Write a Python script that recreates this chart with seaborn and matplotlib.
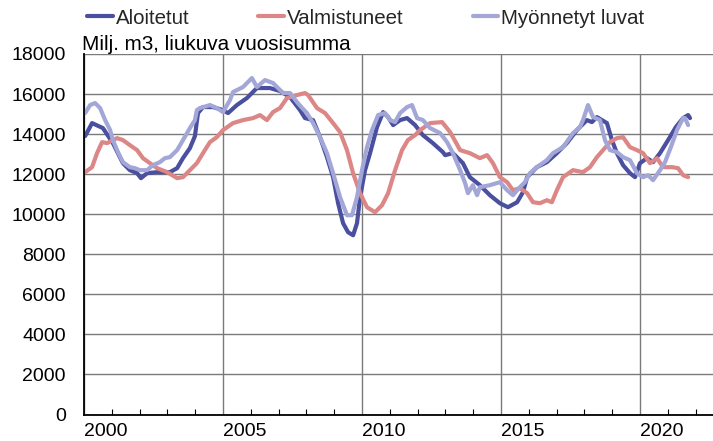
import matplotlib
matplotlib.use("Agg")
import matplotlib.pyplot as plt
from matplotlib.ticker import MultipleLocator, FixedLocator
from matplotlib.lines import Line2D
import seaborn as sns
import pandas as pd

# ---- data ----
series_names = ["Aloitetut", "Valmistuneet", "Myönnetyt luvat"]

aloitetut_t = [2000.04, 2000.29, 2000.68, 2001.04, 2001.29, 2001.40, 2001.65, 2001.91, 2002.05, 2002.27,
               2002.63, 2003.09, 2003.35, 2003.56, 2003.81, 2003.99, 2004.10, 2004.28, 2004.64, 2005.00,
               2005.18, 2005.50, 2005.86, 2006.22, 2006.69, 2007.05, 2007.41, 2007.77, 2007.95, 2008.24,
               2008.49, 2008.74, 2008.96, 2009.14, 2009.32, 2009.50, 2009.68, 2009.82, 2009.93, 2010.11,
               2010.29, 2010.54, 2010.76, 2010.94, 2011.12, 2011.37, 2011.62, 2011.91, 2012.19, 2012.55,
               2012.91, 2012.99, 2013.27, 2013.63, 2013.88, 2014.24, 2014.60, 2014.96, 2015.25, 2015.58,
               2015.79, 2015.94, 2016.29, 2016.65, 2017.01, 2017.37, 2017.73, 2018.09, 2018.27, 2018.45,
               2018.81, 2018.99, 2019.17, 2019.39, 2019.64, 2019.82, 2020.00, 2020.25, 2020.47, 2020.72,
               2021.01, 2021.29, 2021.55, 2021.73, 2021.80]
aloitetut_v = [13900, 14550, 14300, 13550, 12850, 12550, 12200, 12050, 11800, 12050,
               12100, 12100, 12300, 12800, 13300, 13900, 15050, 15350, 15350, 15200,
               15050, 15450, 15800, 16300, 16300, 16150, 15850, 15200, 14800, 14700,
               13850, 12850, 11850, 10550, 9550, 9100, 8950, 9550, 10850, 12200,
               13050, 14350, 15100, 14850, 14450, 14700, 14800, 14450, 13950, 13550,
               13100, 12950, 13050, 12550, 11850, 11450, 10950, 10550, 10350, 10600,
               11100, 11850, 12350, 12600, 13050, 13550, 14200, 14700, 14600, 14850,
               14550, 13700, 13050, 12450, 12050, 11850, 12550, 12800, 12600, 13050,
               13700, 14350, 14800, 14950, 14800]

valmistuneet_t = [2000.04, 2000.29, 2000.47, 2000.65, 2000.83, 2001.19, 2001.40, 2001.65, 2001.91, 2002.12,
                  2002.37, 2002.63, 2002.99, 2003.35, 2003.56, 2003.81, 2004.06, 2004.28, 2004.53, 2004.78,
                  2005.00, 2005.36, 2005.72, 2006.08, 2006.33, 2006.58, 2006.80, 2007.05, 2007.30, 2007.66,
                  2007.95, 2008.06, 2008.38, 2008.67, 2008.96, 2009.21, 2009.46, 2009.68, 2009.93, 2010.18,
                  2010.47, 2010.72, 2010.94, 2011.19, 2011.44, 2011.65, 2011.91, 2012.09, 2012.45, 2012.88,
                  2013.17, 2013.53, 2013.88, 2014.24, 2014.50, 2014.71, 2014.96, 2015.22, 2015.43, 2015.68,
                  2015.94, 2016.15, 2016.40, 2016.65, 2016.83, 2017.01, 2017.23, 2017.59, 2017.95, 2018.20,
                  2018.45, 2018.67, 2018.92, 2019.17, 2019.39, 2019.64, 2019.89, 2020.11, 2020.36, 2020.61,
                  2020.83, 2021.15, 2021.37, 2021.55, 2021.73]
valmistuneet_v = [12100, 12350, 13050, 13600, 13550, 13800, 13700, 13450, 13200, 12800,
                  12550, 12300, 12100, 11800, 11850, 12200, 12550, 13050, 13600, 13850,
                  14200, 14550, 14700, 14800, 14950, 14700, 15100, 15300, 15800, 15950,
                  16050, 15950, 15300, 15050, 14550, 14100, 13200, 12050, 11050, 10350,
                  10100, 10450, 11050, 12200, 13200, 13700, 13950, 14200, 14550, 14600,
                  14100, 13200, 13050, 12800, 12950, 12550, 11850, 11600, 11200, 11300,
                  11050, 10600, 10550, 10700, 10600, 11200, 11850, 12200, 12100, 12350,
                  12850, 13200, 13600, 13800, 13850, 13350, 13200, 13050, 12550, 12800,
                  12350, 12350, 12300, 11950, 11850]

luvat_t = [2000.04, 2000.22, 2000.40, 2000.58, 2000.76, 2000.94, 2001.04, 2001.22, 2001.40, 2001.65,
           2001.83, 2002.01, 2002.27, 2002.48, 2002.73, 2002.91, 2003.09, 2003.35, 2003.56, 2003.81,
           2003.99, 2004.06, 2004.17, 2004.53, 2004.78, 2005.00, 2005.25, 2005.36, 2005.72, 2006.04,
           2006.22, 2006.51, 2006.80, 2006.98, 2007.16, 2007.41, 2007.66, 2007.85, 2008.02, 2008.24,
           2008.49, 2008.74, 2008.96, 2009.21, 2009.46, 2009.64, 2009.82, 2010.00, 2010.18, 2010.36,
           2010.58, 2010.83, 2011.01, 2011.19, 2011.37, 2011.62, 2011.80, 2011.98, 2012.19, 2012.45,
           2012.81, 2013.06, 2013.27, 2013.53, 2013.71, 2013.81, 2013.99, 2014.14, 2014.24, 2014.60,
           2014.96, 2015.22, 2015.43, 2015.68, 2015.86, 2016.04, 2016.29, 2016.65, 2016.87, 2017.23,
           2017.59, 2017.84, 2017.95, 2018.13, 2018.31, 2018.56, 2018.74, 2018.92, 2019.17, 2019.39,
           2019.64, 2019.89, 2020.11, 2020.29, 2020.47, 2020.72, 2020.90, 2021.11, 2021.33, 2021.55,
           2021.62, 2021.73]
luvat_v = [15050, 15450, 15550, 15300, 14700, 14200, 13700, 13100, 12600, 12350,
           12300, 12200, 12200, 12450, 12600, 12800, 12850, 13200, 13700, 14300,
           14700, 15200, 15300, 15450, 15300, 15100, 15700, 16100, 16350, 16800,
           16350, 16700, 16550, 16300, 16050, 16050, 15600, 15300, 15050, 14550,
           13850, 13050, 12050, 10850, 9950, 9950, 10850, 12200, 13350, 14200,
           14950, 15050, 14700, 14600, 15050, 15350, 15450, 14800, 14700, 14300,
           14050, 13600, 13050, 12200, 11550, 11050, 11450, 10950, 11350, 11450,
           11600, 11200, 10950, 11350, 11600, 12050, 12350, 12700, 13050, 13350,
           14050, 14350, 14700, 15450, 14850, 14700, 13700, 13200, 13100, 12850,
           12700, 12050, 11850, 11950, 11700, 12200, 12600, 13350, 14200, 14800,
           14800, 14450]

y_ticks = [0, 2000, 4000, 6000, 8000, 10000, 12000, 14000, 16000, 18000]
x_tick_years = [2000, 2005, 2010, 2015, 2020]
x_tick_labels = ["2000", "2005", "2010", "2015", "2020"]
unit_label = "Milj. m3, liukuva vuosisumma"

colors = {"Aloitetut": "#4a4f9f", "Valmistuneet": "#dc8686", "Myönnetyt luvat": "#a2a7d8"}

df = pd.concat([
    pd.DataFrame({"t": aloitetut_t, "v": aloitetut_v, "sarja": series_names[0]}),
    pd.DataFrame({"t": valmistuneet_t, "v": valmistuneet_v, "sarja": series_names[1]}),
    pd.DataFrame({"t": luvat_t, "v": luvat_v, "sarja": series_names[2]}),
], ignore_index=True)

sns.set_theme(style="white")
plt.rcParams["font.family"] = ["Liberation Sans", "DejaVu Sans"]

W, H = 713, 441
fig = plt.figure(figsize=(W / 100, H / 100), dpi=100)
ax = fig.add_axes([84 / W, 1 - 414.5 / H, (W - 84) / W, (414.5 - 54) / H])

sns.lineplot(data=df, x="t", y="v", hue="sarja", hue_order=series_names,
             palette=colors, linewidth=3.0, ax=ax, legend=False, sort=False,
             estimator=None)

ax.set_xlim(2000, 2000 + (W - 84) / 27.8)
ax.set_ylim(0, 18000)
ax.set_xlabel("")
ax.set_ylabel("")

ax.yaxis.set_major_locator(FixedLocator(y_ticks))
ax.set_yticklabels([str(v) for v in y_ticks])
ax.xaxis.set_major_locator(FixedLocator(x_tick_years))
ax.set_xticklabels(x_tick_labels)
ax.xaxis.set_minor_locator(MultipleLocator(1))
for lab in ax.get_xticklabels():
    lab.set_horizontalalignment("left")

ax.tick_params(axis="y", length=0, pad=13, labelsize=14, colors="black")
ax.tick_params(axis="x", which="major", direction="in", length=0, pad=6, labelsize=14,
               colors="black")
ax.tick_params(axis="x", which="minor", direction="in", length=4, width=0.8, color="black",
               bottom=True)

ax.grid(True, axis="both", which="major", color="#7a7a7a", linewidth=1.0)
ax.set_axisbelow(True)
for s in ["top", "right"]:
    ax.spines[s].set_visible(False)
for s in ["left", "bottom"]:
    ax.spines[s].set_visible(True)
    ax.spines[s].set_color("black")
    ax.spines[s].set_linewidth(1.3)

fig.text(82 / W, 1 - 50 / H, unit_label, ha="left", va="baseline", fontsize=14.9,
         color="black")

handles = [Line2D([], [], color=colors[n], linewidth=3.0) for n in series_names]
fig.legend(handles, series_names, loc="center left", bbox_to_anchor=(87 / W, 1 - 18 / H),
           ncol=3, frameon=False, fontsize=14.8, handlelength=1.25, handletextpad=0.15,
           columnspacing=3.35, borderpad=0, borderaxespad=0)

fig.savefig("out.png", dpi=100)
